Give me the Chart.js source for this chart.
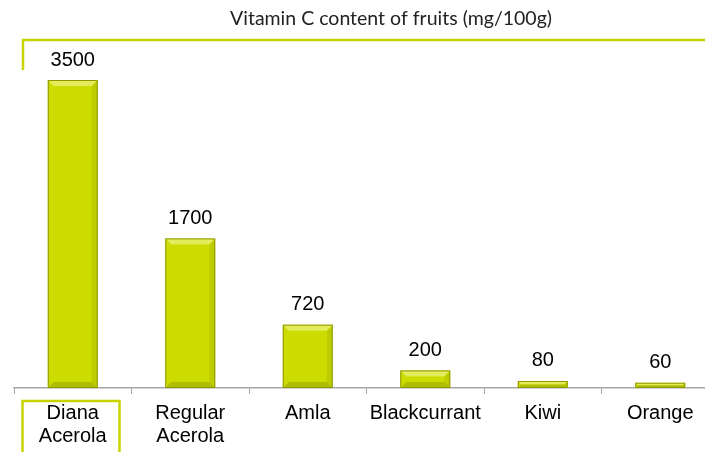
<!DOCTYPE html>
<html>
<head>
<meta charset="utf-8">
<script src="https://cdn.jsdelivr.net/npm/chart.js@4"></script>
<style>
  html, body { margin: 0; padding: 0; background: #fff; overflow: hidden; }
  #wrap { width: 720px; height: 452px; }
</style>
</head>
<body>
<div id="wrap"><canvas id="vitChart" width="720" height="452"></canvas></div>
<script>
const frutas = [['Diana', 'Acerola'], ['Regular', 'Acerola'], 'Amla', 'Blackcurrant', 'Kiwi', 'Orange'];
const vitaminaC = [3500, 1700, 720, 200, 80, 60];
const titulo = 'Vitamin C content of fruits (mg/100g)';

const verde = '#ccdc00';
const verdeMarco = '#c8d400';
const fuente = '"Liberation Sans", Arial, sans-serif';

// marco amarillo, titulo y etiquetas de valores
const decoracion = {
    id: 'decoracion',
    beforeDraw(chart) {
        const ctx = chart.ctx;
        ctx.save();
        ctx.fillStyle = '#fff';
        ctx.fillRect(0, 0, chart.width, chart.height);
        ctx.strokeStyle = verdeMarco;
        ctx.lineWidth = 2.5;
        ctx.beginPath();
        ctx.moveTo(23, 70);
        ctx.lineTo(23, 40);
        ctx.lineTo(chart.width, 40);
        ctx.stroke();
        ctx.beginPath();
        ctx.moveTo(22.5, 460);
        ctx.lineTo(22.5, 401);
        ctx.lineTo(119.5, 401);
        ctx.lineTo(119.5, 460);
        ctx.stroke();
        ctx.fillStyle = '#222';
        ctx.font = '19.5px Lato, "Open Sans", sans-serif';
        ctx.textAlign = 'center';
        ctx.textBaseline = 'middle';
        ctx.fillText(titulo, 391, 19);
        ctx.restore();
    },
    afterDatasetsDraw(chart) {
        const ctx = chart.ctx;
        const meta = chart.getDatasetMeta(0);
        ctx.save();
        meta.data.forEach((bar, i) => {
            const x0 = bar.x - bar.width / 2;
            const x1 = bar.x + bar.width / 2;
            const y0 = bar.y;
            const y1 = bar.base;
            const b = Math.min(6, (y1 - y0) / 2);
            // biselado superior
            ctx.fillStyle = 'rgba(255,255,200,0.45)';
            ctx.beginPath();
            ctx.moveTo(x0, y0);
            ctx.lineTo(x1, y0);
            ctx.lineTo(x1 - b, y0 + b);
            ctx.lineTo(x0 + b, y0 + b);
            ctx.closePath();
            ctx.fill();
            // biselado inferior y lados
            ctx.fillStyle = 'rgba(90,100,0,0.25)';
            ctx.beginPath();
            ctx.moveTo(x0, y1);
            ctx.lineTo(x1, y1);
            ctx.lineTo(x1 - b, y1 - b);
            ctx.lineTo(x0 + b, y1 - b);
            ctx.closePath();
            ctx.fill();
            ctx.fillStyle = 'rgba(90,100,0,0.12)';
            ctx.beginPath();
            ctx.moveTo(x1, y0);
            ctx.lineTo(x1, y1);
            ctx.lineTo(x1 - b, y1 - b);
            ctx.lineTo(x1 - b, y0 + b);
            ctx.closePath();
            ctx.fill();
            ctx.strokeStyle = '#8f9700';
            ctx.lineWidth = 1;
            ctx.strokeRect(x0 + 0.5, y0 + 0.5, bar.width - 1, y1 - y0 - 1);

            ctx.fillStyle = '#000';
            ctx.font = '20px ' + fuente;
            ctx.textAlign = 'center';
            ctx.textBaseline = 'middle';
            ctx.fillText(String(vitaminaC[i]), bar.x, y0 - 20);
        });
        ctx.restore();
    }
};

const ctx = document.getElementById('vitChart').getContext('2d');
const chart = new Chart(ctx, {
    type: 'bar',
    data: {
        labels: frutas,
        datasets: [{
            label: 'Vitamin C',
            data: vitaminaC,
            backgroundColor: verde,
            borderWidth: 0,
            categoryPercentage: 1,
            barPercentage: 0.425
        }]
    },
    options: {
        responsive: false,
        animation: false,
        layout: { padding: { top: 36, left: 14, right: 1, bottom: 0 } },
        plugins: {
            legend: { display: false },
            tooltip: { enabled: false }
        },
        scales: {
            x: {
                afterFit(scale) { scale.height = 64; },
                grid: {
                    offset: true,
                    drawOnChartArea: false,
                    drawTicks: true,
                    tickLength: 6,
                    color: '#a6a6a6'
                },
                border: { color: '#a6a6a6', width: 1.5 },
                ticks: {
                    color: '#000',
                    padding: 8,
                    maxRotation: 0,
                    autoSkip: false,
                    font: { family: fuente, size: 20, lineHeight: 1.15 }
                }
            },
            y: {
                display: false,
                min: 0,
                max: 4000
            }
        }
    },
    plugins: [decoracion]
});
</script>
</body>
</html>
